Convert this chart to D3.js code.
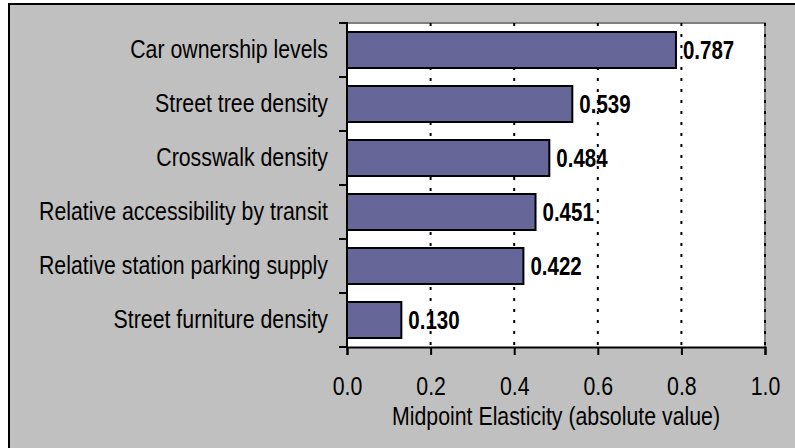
<!DOCTYPE html>
<html>
<head>
<meta charset="utf-8">
<script src="https://cdn.jsdelivr.net/npm/d3@7"></script>
<style>
html, body { margin: 0; padding: 0; background: #ffffff; }
svg { display: block; }
text { font-family: "Liberation Sans Narrow", "Arial Narrow", "Liberation Sans", Arial, sans-serif; }
</style>
</head>
<body>
<svg id="chart" width="795" height="448"></svg>
<script>
const categories = [
  "Car ownership levels",
  "Street tree density",
  "Crosswalk density",
  "Relative accessibility by transit",
  "Relative station parking supply",
  "Street furniture density"
];
const values = [0.787, 0.539, 0.484, 0.451, 0.422, 0.130];
const xTicks = [0.0, 0.2, 0.4, 0.6, 0.8, 1.0];
const xTitle = "Midpoint Elasticity (absolute value)";

const svg = d3.select("#chart");
const W = 795, H = 448;
const plot = { left: 347, top: 23, right: 765, bottom: 347 };
const fontSize = 26;
const SX = 0.82; // horizontal condensing to imitate a narrow face

// outer frame
svg.append("rect").attr("x", 0).attr("y", 0).attr("width", W).attr("height", H).attr("fill", "#ffffff");
svg.append("rect").attr("x", 9).attr("y", 4).attr("width", W + 20).attr("height", H + 20)
  .attr("fill", "#c0c0c0").attr("stroke", "#000").attr("stroke-width", 2);

const x = d3.scaleLinear().domain([0, 1]).range([plot.left, plot.right]);
const y = d3.scaleBand().domain(categories).range([plot.top, plot.bottom])
  .paddingInner(1 / 3).paddingOuter(1 / 6);

// plot background
svg.append("rect").attr("x", plot.left).attr("y", plot.top)
  .attr("width", plot.right - plot.left).attr("height", plot.bottom - plot.top)
  .attr("fill", "#ffffff");
// gray top & right border
svg.append("path")
  .attr("d", `M${plot.left},${plot.top}H${plot.right}V${plot.bottom}`)
  .attr("fill", "none").attr("stroke", "#808080").attr("stroke-width", 2);

const data = categories.map((c, i) => ({ c, v: values[i] }));

// value labels
svg.append("g").selectAll("text").data(data).join("text")
  .attr("transform", d => `translate(${x(d.v) + 7},${y(d.c) + y.bandwidth() / 2}) scale(${SX},1)`)
  .attr("dy", "0.35em")
  .attr("font-size", 25)
  .attr("font-weight", "bold")
  .attr("fill", "#000")
  .text(d => d.v.toFixed(3));

// gridlines
svg.append("g").selectAll("line").data(xTicks.filter(t => t > 0)).join("line")
  .attr("x1", d => x(d)).attr("x2", d => x(d))
  .attr("y1", plot.top).attr("y2", plot.bottom)
  .attr("stroke", "#000").attr("stroke-width", 2)
  .attr("stroke-dasharray", "3,8");

// bars
svg.append("g").selectAll("rect").data(data).join("rect")
  .attr("x", x(0))
  .attr("y", d => y(d.c))
  .attr("width", d => x(d.v) - x(0))
  .attr("height", y.bandwidth())
  .attr("fill", "#666699")
  .attr("stroke", "#000").attr("stroke-width", 2);

// x axis
const xAxis = d3.axisBottom(x).tickValues(xTicks).tickFormat(d3.format(".1f")).tickSize(8).tickPadding(14);
const gx = svg.append("g").attr("transform", `translate(0,${plot.bottom})`).call(xAxis);
gx.select(".domain").attr("stroke", "#000").attr("stroke-width", 2);
gx.selectAll(".tick line").attr("stroke", "#000").attr("stroke-width", 2);
gx.selectAll(".tick text").attr("font-size", fontSize).attr("fill", "#000")
  .attr("font-family", null).attr("dy", null).attr("y", 48)
  .attr("transform", `scale(${SX},1)`);

// y axis: ticks at band boundaries
const bounds = d3.range(categories.length + 1).map(i => plot.top + i * y.step());
svg.append("g").selectAll("line").data(bounds).join("line")
  .attr("x1", plot.left - 8).attr("x2", plot.left)
  .attr("y1", d => d).attr("y2", d => d)
  .attr("stroke", "#000").attr("stroke-width", 2);
svg.append("line")
  .attr("x1", plot.left).attr("x2", plot.left)
  .attr("y1", plot.top - 1).attr("y2", plot.bottom + 1)
  .attr("stroke", "#000").attr("stroke-width", 2);

// y labels
svg.append("g").selectAll("text").data(categories).join("text")
  .attr("transform", d => `translate(328,${y(d) + y.bandwidth() / 2 - 1}) scale(${SX},1)`)
  .attr("dy", "0.35em")
  .attr("text-anchor", "end")
  .attr("font-size", fontSize)
  .attr("fill", "#000")
  .text(d => d);

// x title
svg.append("text")
  .attr("transform", `translate(${(plot.left + plot.right) / 2},425) scale(${SX},1)`)
  .attr("text-anchor", "middle")
  .attr("font-size", fontSize)
  .attr("fill", "#000")
  .text(xTitle);
</script>
</body>
</html>
